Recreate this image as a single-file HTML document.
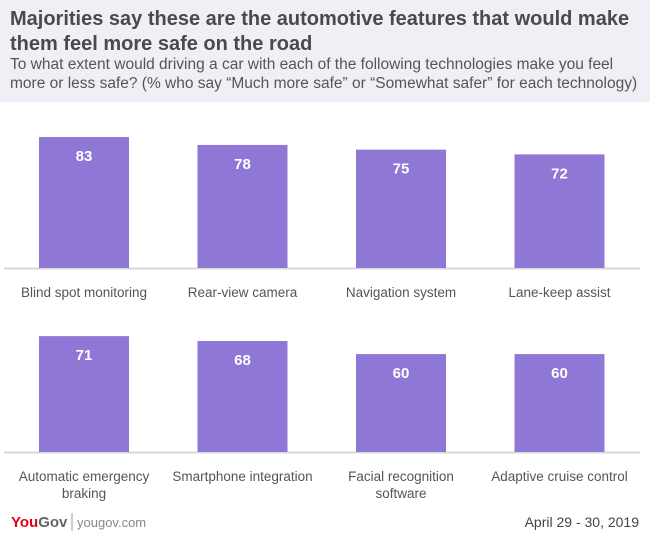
<!DOCTYPE html>
<html><head><meta charset="utf-8">
<style>
body{margin:0;width:650px;height:556px;background:#fff;font-family:"Liberation Sans",sans-serif;overflow:hidden;position:relative}
#hdr{position:absolute;left:0;top:0;width:650px;height:102px;background:#f0eff5}
#title{position:absolute;left:10px;top:7px;font-size:20px;font-weight:bold;color:#4a4a4a;line-height:25px;letter-spacing:0px}
#sub{position:absolute;left:10px;top:56px;font-size:15.5px;color:#555;line-height:18.5px;letter-spacing:0px}
svg{position:absolute;left:0;top:0}
</style></head><body>
<div id="hdr"></div>
<div id="title">Majorities say these are the automotive features that would make<br>them feel more safe on the road</div>
<div id="sub">To what extent would driving a car with each of the following technologies make you feel<br>more or less safe? (% who say “Much more safe” or “Somewhat safer” for each technology)</div>
<svg id="chart" width="650" height="556">
<text x="11" y="527" font-size="15" font-weight="bold" fill="#e3001b">You<tspan fill="#666">Gov</tspan></text>
<line x1="72" y1="513" x2="72" y2="531" stroke="#999"/>
<text x="77" y="527" font-size="13" fill="#888">yougov.com</text>
<text x="639" y="527" font-size="14" fill="#444" text-anchor="end">April 29 - 30, 2019</text>
</svg>
<script>
const categories=[["Blind spot monitoring"],["Rear-view camera"],["Navigation system"],["Lane-keep assist"],["Automatic emergency","braking"],["Smartphone integration"],["Facial recognition","software"],["Adaptive cruise control"]];
const values=[83,78,75,72,71,68,60,60];
const svg=document.getElementById('chart');
const NS='http://www.w3.org/2000/svg';
const rows=[{base:268,scale:1.578},{base:452,scale:1.632}];
function xc(i){return 84+(i%4)*158.5;}
function y(v,r){return rows[r].base-v*rows[r].scale;}
rows.forEach((r,ri)=>{
  const l=document.createElementNS(NS,'line');
  l.setAttribute('x1',4);l.setAttribute('x2',640);l.setAttribute('y1',r.base+0.5);l.setAttribute('y2',r.base+0.5);
  l.setAttribute('stroke','#d8d8d8');l.setAttribute('stroke-width',2);
  
  
  svg.appendChild(l);
});
values.forEach((v,i)=>{
  const r=i<4?0:1;const cx=xc(i);const top=y(v,r);
  const b=document.createElementNS(NS,'rect');
  b.setAttribute('x',cx-45);b.setAttribute('width',90);b.setAttribute('y',top);b.setAttribute('height',rows[r].base-top);
  b.setAttribute('fill','#8f77d6');
  
  
  svg.appendChild(b);
  const t=document.createElementNS(NS,'text');
  t.setAttribute('x',cx);t.setAttribute('y',top+24);t.setAttribute('text-anchor','middle');
  t.setAttribute('fill','#fff');t.setAttribute('font-size','15');t.setAttribute('font-weight','bold');
  t.textContent=v;
  
  
  svg.appendChild(t);
  categories[i].forEach((line,k)=>{
    const c=document.createElementNS(NS,'text');
    c.setAttribute('x',cx);c.setAttribute('y',rows[r].base+29+k*17);c.setAttribute('text-anchor','middle');
    c.setAttribute('fill','#555');c.setAttribute('font-size','13.5');
    c.textContent=line;
    
    
    svg.appendChild(c);
  });
});
</script>
</body></html>
